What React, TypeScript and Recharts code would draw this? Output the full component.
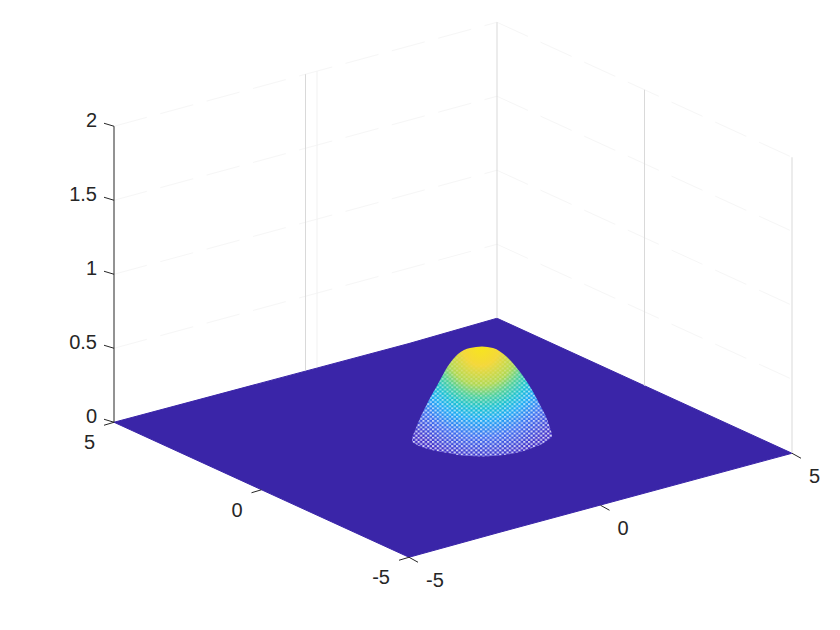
import { Area, ComposedChart, ReferenceLine, Scatter, XAxis, YAxis } from 'recharts';

// values
const xTicks = [-5, 0, 5];
const yTicks = [-5, 0, 5];
const zTicks = [0, 0.5, 1, 1.5, 2];
const zGridLevels = [0.5, 1, 1.5, 2];
const leftWallColumns = [0, 0.3];

// silhouette of the bump on the page, left to right
const domeColumn = [412, 418, 428, 438, 448, 458, 470, 482, 493, 507, 520, 532, 540, 547, 552];
const domeTop = [438, 423, 402, 384, 366, 354, 348, 346.5, 348, 357, 372, 390, 405, 419, 434];
const domeBottom = [442, 445.5, 449, 451.5, 453, 455, 456, 456.5, 456, 454.5, 452, 448, 445, 441, 437];

// 3d box to page, orthographic view
const project = (x: number, y: number, z: number) => ({
  x: 453 + x * 38.3 - y * 29.5,
  y: 437.75 - x * 10.4 - y * 13.5 - z * 148,
});

const ink = '#262626';
const floorColor = '#3a25a8';
const gridColor = '#d9d9d9';
const faintGrid = '#f6f6f6';

const floorCorners = [
  [-5, 5],
  [-5, -5],
  [5, 5],
  [5, -5],
].map(([x, y]) => project(x, y, 0));

const floorData = [
  { x: floorCorners[0].x, range: [floorCorners[0].y, floorCorners[0].y] },
  { x: floorCorners[1].x, range: [343.5, floorCorners[1].y] },
  { x: floorCorners[2].x, range: [floorCorners[2].y, 533] },
  { x: floorCorners[3].x, range: [floorCorners[3].y, floorCorners[3].y] },
];

const domeData = domeColumn.map((x, i) => ({ x, range: [domeTop[i], domeBottom[i]] }));

const labelFont = { fontFamily: '"Liberation Sans", Arial, sans-serif', fontSize: 20, fill: ink };

const xLabels = xTicks.map((v) => {
  const p = project(v, -5, 0);
  return { x: p.x + 17, y: p.y + 30, text: String(v), anchor: 'start' };
});
const yLabels = yTicks.map((v) => {
  const p = project(-5, v, 0);
  return { x: p.x - 19, y: p.y + 27, text: String(v), anchor: 'end' };
});
const zLabels = zTicks.map((v) => {
  const p = project(-5, 5, v);
  return { x: p.x - 17, y: p.y + 1, text: String(v), anchor: 'end' };
});
const allLabels = [...xLabels, ...yLabels, ...zLabels];

function TickText(props: any) {
  const { cx, cy, payload } = props;
  return (
    <text x={cx} y={cy} textAnchor={payload.anchor} {...labelFont}>
      {payload.text}
    </text>
  );
}

function seg(a: { x: number; y: number }, b: { x: number; y: number }) {
  return [a, b] as any;
}

export default function App() {
  const topLeft = project(-5, 5, 2);
  const topBack = project(5, 5, 2);
  const topRight = project(5, -5, 2);
  return (
    <div style={{ width: 840, height: 630, margin: -8, background: '#fff' }}>
      <ComposedChart width={840} height={630} margin={{ top: 0, right: 0, bottom: 0, left: 0 }}>
        <defs>
          <radialGradient id="domeFill" gradientUnits="userSpaceOnUse" cx={0} cy={0} r={1} gradientTransform="translate(481 345) scale(104 115)">
            <stop offset="0" stopColor="#f8e61a" />
            <stop offset="0.18" stopColor="#f4d83a" />
            <stop offset="0.35" stopColor="#b0d850" />
            <stop offset="0.45" stopColor="#4ccf98" />
            <stop offset="0.55" stopColor="#14c0d0" />
            <stop offset="0.65" stopColor="#18a8f4" />
            <stop offset="0.8" stopColor="#3a6cf0" />
            <stop offset="1" stopColor="#3f2cc8" />
          </radialGradient>
          <radialGradient id="holeFade" gradientUnits="userSpaceOnUse" cx={0} cy={0} r={1} gradientTransform="translate(481 345) scale(104 115)">
            <stop offset="0.15" stopColor="#000" />
            <stop offset="0.32" stopColor="#444" />
            <stop offset="0.6" stopColor="#999" />
            <stop offset="1" stopColor="#ccc" />
          </radialGradient>
          <mask id="holeMask" maskUnits="userSpaceOnUse" x={400} y={335} width={170} height={130}>
            <rect x={400} y={335} width={170} height={130} fill="url(#holeFade)" />
          </mask>
          <pattern id="meshHoles" patternUnits="userSpaceOnUse" width={4.8} height={4.2}>
            <rect x={0} y={0} width={2.2} height={1.9} fill="#fff" />
            <rect x={2.4} y={2.1} width={2.2} height={1.9} fill="#fff" />
          </pattern>
          <filter id="softenHoles" x="-5%" y="-5%" width="110%" height="110%" colorInterpolationFilters="sRGB">
            <feGaussianBlur stdDeviation="0.35" />
          </filter>
        </defs>
        <XAxis type="number" dataKey="x" domain={[0, 840]} hide allowDataOverflow />
        <YAxis type="number" dataKey="y" domain={[0, 630]} reversed hide allowDataOverflow />

        {/* walls */}
        {zGridLevels.map((z) => (
          <ReferenceLine key={`l${z}`} segment={seg(project(-5, 5, z), project(5, 5, z))} stroke={faintGrid} strokeDasharray="34 14" ifOverflow="visible" />
        ))}
        {zGridLevels.map((z) => (
          <ReferenceLine key={`r${z}`} segment={seg(project(5, 5, z), project(5, -5, z))} stroke={faintGrid} strokeDasharray="34 14" ifOverflow="visible" />
        ))}
        {leftWallColumns.map((x, i) => (
          <ReferenceLine key={`c${x}`} segment={seg(project(x, 5, 0), project(x, 5, 2))} stroke={i === 0 ? gridColor : '#f1f1f1'} ifOverflow="visible" />
        ))}
        <ReferenceLine segment={seg(project(5, 5, 0), topBack)} stroke={gridColor} ifOverflow="visible" />
        <ReferenceLine segment={seg(project(5, 0, 0), project(5, 0, 2))} stroke={gridColor} ifOverflow="visible" />
        <ReferenceLine segment={seg(project(5, -5, 0), topRight)} stroke={gridColor} ifOverflow="visible" />

        {/* floor of the surface */}
        <Area data={floorData} dataKey="range" type="linear" fill={floorColor} fillOpacity={1} stroke={floorColor} strokeWidth={1} dot={false} activeDot={false} isAnimationActive={false} />

        {/* the bump */}
        <Area data={domeData} dataKey="range" type="monotone" fill="url(#domeFill)" fillOpacity={1} stroke="none" dot={false} activeDot={false} isAnimationActive={false} />
        <Area data={domeData} dataKey="range" type="monotone" fill="url(#meshHoles)" fillOpacity={1} stroke="none" mask="url(#holeMask)" filter="url(#softenHoles)" dot={false} activeDot={false} isAnimationActive={false} />

        {/* axes */}
        <ReferenceLine segment={seg(project(-5, 5, 0), topLeft)} stroke={ink} ifOverflow="visible" />
        {zTicks.map((z) => {
          const p = project(-5, 5, z);
          return <ReferenceLine key={`zt${z}`} segment={seg(p, { x: p.x - 10, y: p.y - 3 })} stroke={ink} ifOverflow="visible" />;
        })}
        {xTicks.map((v) => {
          const p = project(v, -5, 0);
          return <ReferenceLine key={`xt${v}`} segment={seg(p, { x: p.x + 9, y: p.y + 5 })} stroke={ink} ifOverflow="visible" />;
        })}
        {yTicks.map((v) => {
          const p = project(-5, v, 0);
          return <ReferenceLine key={`yt${v}`} segment={seg(p, { x: p.x - 10, y: p.y + 3 })} stroke={ink} ifOverflow="visible" />;
        })}

        <Scatter data={allLabels} dataKey="y" shape={TickText} isAnimationActive={false} />
      </ComposedChart>
    </div>
  );
}
